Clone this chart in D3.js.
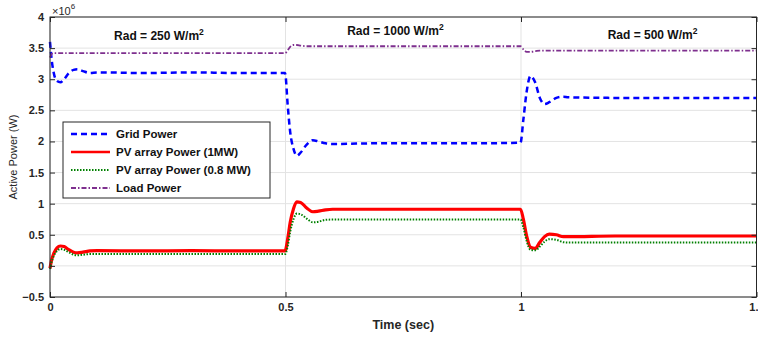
<!doctype html>
<html>
<head>
<meta charset="utf-8">
<script src="https://d3js.org/d3.v7.min.js"></script>
<style>
  body { margin:0; background:#fff; }
  text { font-family:"Liberation Sans", Arial, sans-serif; }
</style>
</head>
<body>
<svg></svg>
<script>
let w = 758, h = 338;

// time samples (sec)
let time = [0, 0.003, 0.008, 0.015, 0.022, 0.03, 0.04, 0.05, 0.058, 0.07, 0.085, 0.1, 0.2, 0.3, 0.4, 0.499,
            0.505, 0.51, 0.517, 0.524, 0.532, 0.545, 0.558, 0.57, 0.585, 0.6, 0.7, 0.8, 0.9, 0.999,
            1.005, 1.012, 1.02, 1.03, 1.04, 1.05, 1.06, 1.075, 1.09, 1.1, 1.2, 1.3, 1.4, 1.5];
// series values (x10^6 W)
let gridPower = [3.6, 3.35, 3.1, 2.97, 2.95, 3.0, 3.1, 3.15, 3.16, 3.13, 3.1, 3.11, 3.1, 3.11, 3.1, 3.1,
                 2.55, 2.15, 1.88, 1.77, 1.82, 1.95, 2.02, 2.0, 1.97, 1.96, 1.97, 1.97, 1.97, 1.98,
                 2.35, 2.8, 3.05, 2.95, 2.7, 2.6, 2.63, 2.7, 2.72, 2.71, 2.7, 2.7, 2.7, 2.7];
let pv1 = [-0.04, 0.08, 0.2, 0.29, 0.32, 0.31, 0.26, 0.22, 0.21, 0.22, 0.24, 0.245, 0.24, 0.245, 0.24, 0.24,
           0.45, 0.7, 0.92, 1.03, 1.02, 0.93, 0.87, 0.88, 0.9, 0.91, 0.91, 0.91, 0.91, 0.91,
           0.75, 0.48, 0.3, 0.28, 0.38, 0.47, 0.51, 0.5, 0.47, 0.47, 0.48, 0.48, 0.48, 0.48];
let pv08 = [-0.05, 0.05, 0.16, 0.24, 0.27, 0.26, 0.22, 0.18, 0.17, 0.18, 0.19, 0.19, 0.19, 0.19, 0.19, 0.19,
            0.33, 0.55, 0.75, 0.84, 0.83, 0.76, 0.7, 0.71, 0.74, 0.745, 0.745, 0.745, 0.745, 0.745,
            0.62, 0.4, 0.26, 0.25, 0.31, 0.39, 0.43, 0.42, 0.38, 0.375, 0.375, 0.375, 0.375, 0.375];
let loadPower = [3.35, 3.4, 3.42, 3.42, 3.42, 3.42, 3.42, 3.42, 3.42, 3.42, 3.42, 3.42, 3.42, 3.42, 3.42, 3.42,
                 3.47, 3.52, 3.55, 3.55, 3.54, 3.53, 3.53, 3.53, 3.53, 3.53, 3.53, 3.53, 3.53, 3.53,
                 3.48, 3.44, 3.44, 3.45, 3.46, 3.46, 3.46, 3.46, 3.46, 3.46, 3.46, 3.46, 3.46, 3.46];

let xTicks = [0, 0.5, 1, 1.5];
let yTicks = [-0.5, 0, 0.5, 1, 1.5, 2, 2.5, 3, 3.5, 4];
let legendNames = ['Grid Power', 'PV array Power (1MW)', 'PV array Power (0.8 MW)', 'Load Power'];
let annotations = [{t: 0.136, v: 3.63, txt: 'Rad = 250 W/m'}, {t: 0.631, v: 3.71, txt: 'Rad = 1000 W/m'}, {t: 1.184, v: 3.645, txt: 'Rad = 500 W/m'}];

let m = {left: 50, top: 17};

let svg = d3.select('svg').attr('width', w).attr('height', h);

let x = d3.scaleLinear().domain([0, 1.5]).range([m.left, 756.5]);
let y = d3.scaleLinear().domain([-0.5, 4]).range([297, m.top]);

// grid
svg.append('g').selectAll('line').data(yTicks).enter().append('line')
   .attr('x1', x(0)).attr('x2', x(1.5))
   .attr('y1', d => y(d)).attr('y2', d => y(d))
   .attr('stroke', '#e3e3e3').attr('stroke-width', 1);
svg.append('g').selectAll('line').data(xTicks).enter().append('line')
   .attr('x1', d => x(d)).attr('x2', d => x(d))
   .attr('y1', y(-0.5)).attr('y2', y(4))
   .attr('stroke', '#e3e3e3').attr('stroke-width', 1);

// series
let series = [
  {vals: gridPower, color: '#0000ff', width: 2.5, dash: '6,4'},
  {vals: pv1, color: '#ff0000', width: 3.2, dash: null},
  {vals: pv08, color: '#008000', width: 2, dash: '1.5,1.5'},
  {vals: loadPower, color: '#7e2f8e', width: 1.8, dash: '5,2,1.5,2'}
];
series.forEach(function(s) {
  let line = d3.line()
               .x((d, i) => x(time[i]))
               .y(d => y(d))
               .curve(d3.curveMonotoneX);
  svg.append('path').datum(s.vals)
     .attr('d', line)
     .attr('fill', 'none')
     .attr('stroke', s.color)
     .attr('stroke-width', s.width)
     .attr('stroke-dasharray', s.dash);
});

// axes box
let axisColor = '#262626';
svg.append('rect')
   .attr('x', x(0)).attr('y', y(4))
   .attr('width', x(1.5) - x(0)).attr('height', y(-0.5) - y(4))
   .attr('fill', 'none').attr('stroke', axisColor).attr('stroke-width', 1);

let xAxis = d3.axisBottom(x).tickValues(xTicks).tickSize(-5).tickPadding(6).tickFormat(d3.format('~g'));
let gx = svg.append('g').attr('transform', 'translate(0,' + y(-0.5) + ')').call(xAxis);
let xTop = d3.axisTop(x).tickValues(xTicks).tickSize(-5).tickFormat('');
svg.append('g').attr('transform', 'translate(0,' + y(4) + ')').call(xTop);
let yAxis = d3.axisLeft(y).tickValues(yTicks).tickSize(-5).tickPadding(6).tickFormat(d3.format('~g'));
let gy = svg.append('g').attr('transform', 'translate(' + x(0) + ',0)').call(yAxis);
let yRight = d3.axisRight(y).tickValues(yTicks).tickSize(-5).tickFormat('');
svg.append('g').attr('transform', 'translate(' + x(1.5) + ',0)').call(yRight);

svg.selectAll('.domain').remove();
svg.selectAll('.tick line').attr('stroke', axisColor);
svg.selectAll('.tick text')
   .attr('fill', axisColor)
   .style('font-size', '11px')
   .style('font-weight', 'bold');
gx.selectAll('.tick text').attr('dy', '0.71em');

// exponent
let ex = svg.append('text').attr('x', x(0) + 2).attr('y', 15)
            .attr('fill', axisColor).style('font-size', '11px');
ex.append('tspan').text('\u00d710');
ex.append('tspan').attr('dy', -6).style('font-size', '8px').text('6');

// axis labels
svg.append('text')
   .attr('x', (x(0) + x(1.5)) / 2).attr('y', 329)
   .attr('text-anchor', 'middle').attr('fill', axisColor)
   .style('font-size', '12.5px').style('font-weight', 'bold')
   .text('Time (sec)');
svg.append('text')
   .attr('transform', 'translate(17,' + ((y(4) + y(-0.5)) / 2) + ') rotate(-90)')
   .attr('text-anchor', 'middle').attr('fill', axisColor)
   .style('font-size', '11px')
   .text('Active Power (W)');

// annotations
annotations.forEach(function(a) {
  let t = svg.append('text').attr('x', x(a.t)).attr('y', y(a.v))
             .attr('fill', '#111')
             .style('font-size', '12px').style('font-weight', 'bold');
  t.append('tspan').text(a.txt);
  t.append('tspan').attr('dy', -5).style('font-size', '8.5px').text('2');
});

// legend
let lg = svg.append('g').attr('transform', 'translate(63,122)');
lg.append('rect').attr('width', 207).attr('height', 76)
  .attr('fill', '#fff').attr('stroke', axisColor).attr('stroke-width', 1);
legendNames.forEach(function(name, i) {
  let s = series[i];
  let yy = 12 + i * 18;
  lg.append('line').attr('x1', 8).attr('x2', 47).attr('y1', yy).attr('y2', yy)
    .attr('stroke', s.color).attr('stroke-width', Math.min(s.width, 2.5))
    .attr('stroke-dasharray', s.dash);
  lg.append('text').attr('x', 53).attr('y', yy + 4)
    .attr('fill', '#111').style('font-size', '11.5px').style('font-weight', 'bold')
    .text(name);
});
</script>
</body>
</html>
